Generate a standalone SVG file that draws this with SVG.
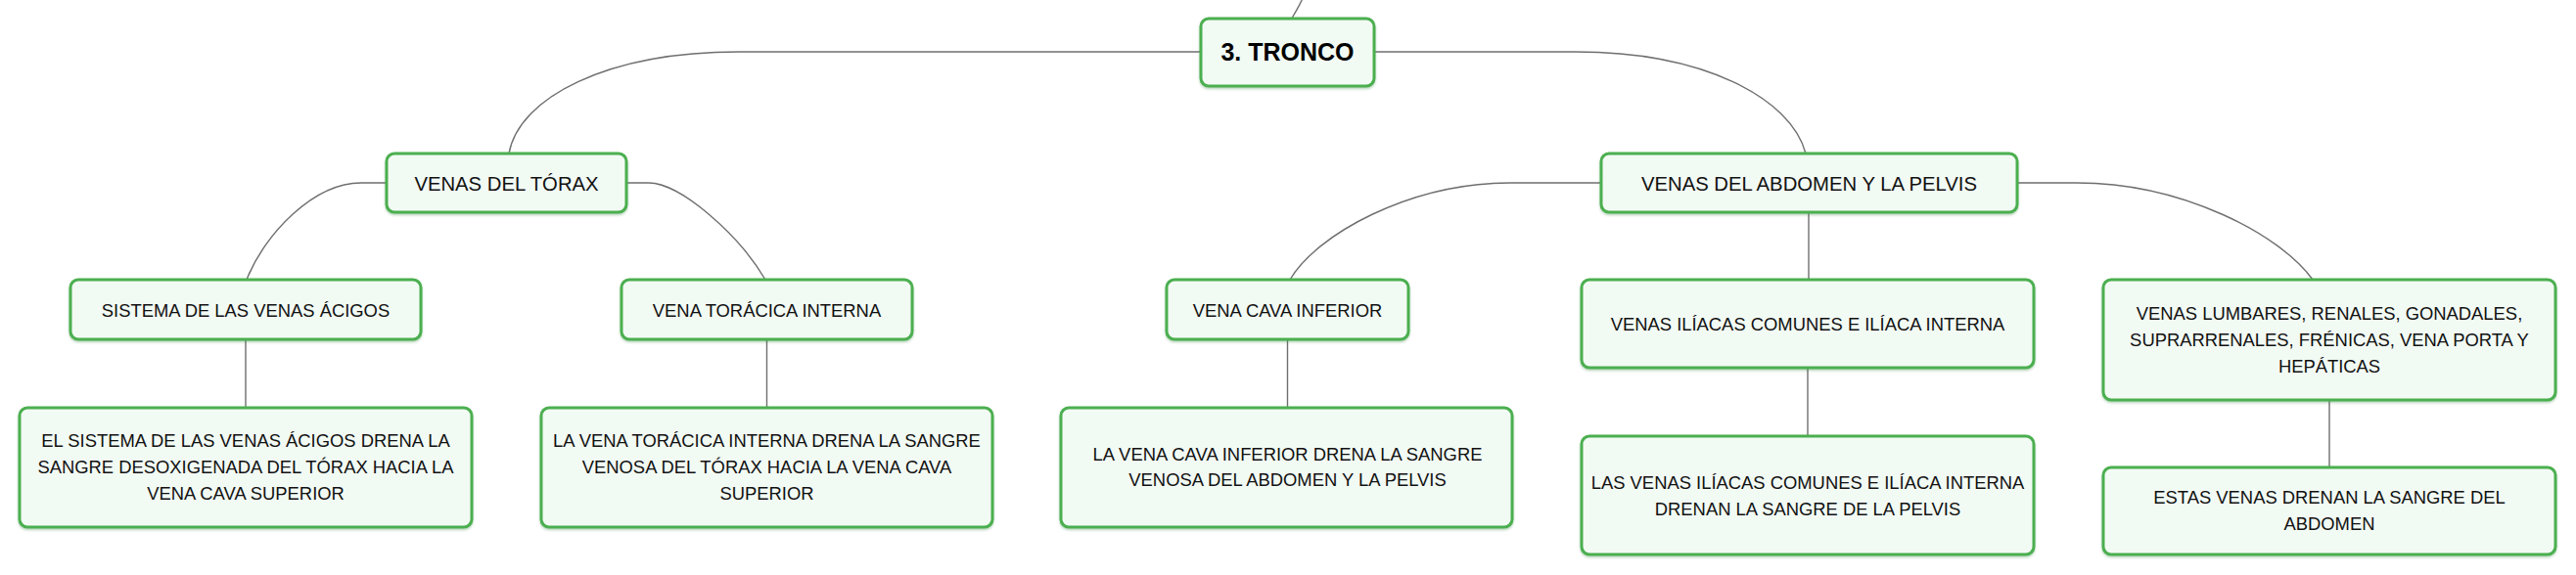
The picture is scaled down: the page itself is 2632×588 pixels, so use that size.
<svg xmlns="http://www.w3.org/2000/svg" width="2632" height="588" viewBox="0 0 2632 588">
<defs>
<filter id="sh" x="-5%" y="-10%" width="110%" height="130%">
<feDropShadow dx="0" dy="1.5" stdDeviation="1" flood-color="#2e7d32" flood-opacity="0.35"/>
</filter>
</defs>
<style>
.box{fill:#f2faf4;stroke:#4caf50;stroke-width:3;filter:url(#sh)}
.t{font-family:"Liberation Sans",Arial,sans-serif;font-size:18.4px;fill:#111;text-anchor:middle}
.t2{font-family:"Liberation Sans",Arial,sans-serif;font-size:20.3px;fill:#111;text-anchor:middle}
.t1{font-family:"Liberation Sans",Arial,sans-serif;font-size:25px;font-weight:700;fill:#000;text-anchor:middle}
.c{fill:none;stroke:#6f6f6f;stroke-width:1.4}
</style>
<rect width="2632" height="588" fill="#ffffff"/>
<g id="connectors">
<path class="c" d="M1331,-2 C1327,8 1322,14 1320,19"/>
<path class="c" d="M1227,53 H755 C620,53 530,100 520,157"/>
<path class="c" d="M1404,53 H1610 C1740,53 1830,100 1845,157"/>
<path class="c" d="M395,187 H369 C320,187 270,240 252,286"/>
<path class="c" d="M640,187 H663 C695,187 755,240 782,286"/>
<path class="c" d="M1636,187 H1543 C1440,187 1345,240 1318,286"/>
<path class="c" d="M1848,217 V286"/>
<path class="c" d="M2061,187 H2122 C2230,187 2330,240 2363,286"/>
<path class="c" d="M251,347 V417"/>
<path class="c" d="M783.5,347 V417"/>
<path class="c" d="M1315.5,347 V417"/>
<path class="c" d="M1847,376 V446"/>
<path class="c" d="M2380,409 V478"/>
</g>
<g id="n-tronco">
<rect class="box" x="1227" y="19" width="177" height="69" rx="8"/>
<text class="t1" x="1315.5" y="62">3. TRONCO</text>
</g>
<g id="n-torax">
<rect class="box" x="395" y="157" width="245" height="60" rx="8"/>
<text class="t2" x="517.5" y="194.5">VENAS DEL TÓRAX</text>
</g>
<g id="n-abdomen">
<rect class="box" x="1636" y="157" width="425" height="60" rx="8"/>
<text class="t2" x="1848.5" y="194.5">VENAS DEL ABDOMEN Y LA PELVIS</text>
</g>
<g id="n-acigos">
<rect class="box" x="72" y="286" width="358" height="61" rx="8"/>
<text class="t" x="251" y="323.5">SISTEMA DE LAS VENAS ÁCIGOS</text>
</g>
<g id="n-toracica">
<rect class="box" x="635" y="286" width="297" height="61" rx="8"/>
<text class="t" x="783.5" y="323.5">VENA TORÁCICA INTERNA</text>
</g>
<g id="n-cava">
<rect class="box" x="1192" y="286" width="247" height="61" rx="8"/>
<text class="t" x="1315.5" y="323.5">VENA CAVA INFERIOR</text>
</g>
<g id="n-iliacas">
<rect class="box" x="1616" y="286" width="462" height="90" rx="8"/>
<text class="t" x="1847" y="338">VENAS ILÍACAS COMUNES E ILÍACA INTERNA</text>
</g>
<g id="n-lumbares">
<rect class="box" x="2149" y="286" width="462" height="123" rx="8"/>
<text class="t" x="2380" y="327">VENAS LUMBARES, RENALES, GONADALES,</text>
<text class="t" x="2380" y="354">SUPRARRENALES, FRÉNICAS, VENA PORTA Y</text>
<text class="t" x="2380" y="380.5">HEPÁTICAS</text>
</g>
<g id="n-acigos-desc">
<rect class="box" x="20" y="417" width="462" height="122" rx="8"/>
<text class="t" x="251" y="456.5">EL SISTEMA DE LAS VENAS ÁCIGOS DRENA LA</text>
<text class="t" x="251" y="483.5">SANGRE DESOXIGENADA DEL TÓRAX HACIA LA</text>
<text class="t" x="251" y="510.5">VENA CAVA SUPERIOR</text>
</g>
<g id="n-toracica-desc">
<rect class="box" x="553" y="417" width="461" height="122" rx="8"/>
<text class="t" x="783.5" y="456.5">LA VENA TORÁCICA INTERNA DRENA LA SANGRE</text>
<text class="t" x="783.5" y="483.5">VENOSA DEL TÓRAX HACIA LA VENA CAVA</text>
<text class="t" x="783.5" y="510.5">SUPERIOR</text>
</g>
<g id="n-cava-desc">
<rect class="box" x="1084" y="417" width="461" height="122" rx="8"/>
<text class="t" x="1315.5" y="470.5">LA VENA CAVA INFERIOR DRENA LA SANGRE</text>
<text class="t" x="1315.5" y="497">VENOSA DEL ABDOMEN Y LA PELVIS</text>
</g>
<g id="n-iliacas-desc">
<rect class="box" x="1616" y="446" width="462" height="121" rx="8"/>
<text class="t" x="1847" y="499.5">LAS VENAS ILÍACAS COMUNES E ILÍACA INTERNA</text>
<text class="t" x="1847" y="526.5">DRENAN LA SANGRE DE LA PELVIS</text>
</g>
<g id="n-lumbares-desc">
<rect class="box" x="2149" y="478" width="462" height="89" rx="8"/>
<text class="t" x="2380" y="515">ESTAS VENAS DRENAN LA SANGRE DEL</text>
<text class="t" x="2380" y="541.5">ABDOMEN</text>
</g>
</svg>
